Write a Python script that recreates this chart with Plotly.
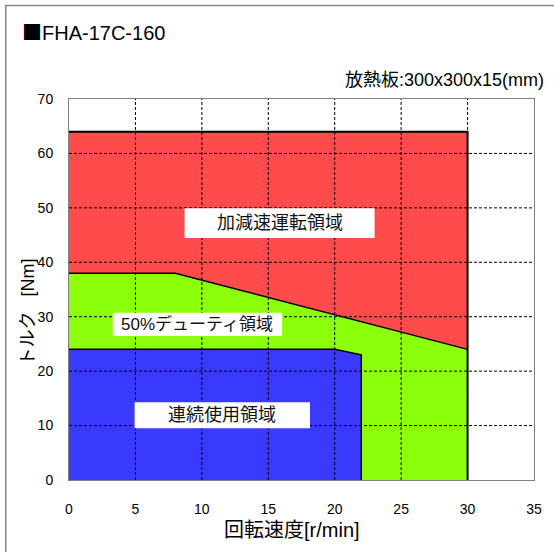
import plotly.graph_objects as go

# Data (speed r/min, torque Nm)
accel_x = [0, 30, 30, 8, 0]
accel_y = [64, 64, 24, 38, 38]
duty_x = [0, 8, 30, 30, 22, 22, 20, 0]
duty_y = [38, 38, 24, 0, 0, 23, 24, 24]
cont_x = [0, 20, 22, 22, 0]
cont_y = [24, 24, 23, 0, 0]

x_ticks = [0, 5, 10, 15, 20, 25, 30, 35]
y_ticks = [0, 10, 20, 30, 40, 50, 60, 70]

labels = ["加減速運転領域", "50%デューティ領域", "連続使用領域"]
label_x = [15.85, 9.67, 11.54]
label_y = [47.2, 28.6, 11.9]
label_size = [18, 17, 18]
box_w = [14.3, 12.75, 13.2]
box_h = [5.5, 4.3, 4.8]

RED = "#FF4B4B"
GREEN = "#8CFF0A"
BLUE = "#3A3AFF"
FONT = "Liberation Sans, Noto Sans CJK JP, sans-serif"

fig = go.Figure()

# fills
fig.add_trace(go.Scatter(x=accel_x, y=accel_y, fill="toself", fillcolor=RED,
                         mode="none", hoverinfo="skip"))
fig.add_trace(go.Scatter(x=duty_x, y=duty_y, fill="toself", fillcolor=GREEN,
                         mode="none", hoverinfo="skip"))
fig.add_trace(go.Scatter(x=cont_x, y=cont_y, fill="toself", fillcolor=BLUE,
                         mode="none", hoverinfo="skip"))

# gridlines on top of fills
for xv in x_ticks[1:-1]:
    fig.add_trace(go.Scatter(x=[xv, xv], y=[y_ticks[0], y_ticks[-1]], mode="lines",
                             line=dict(color="black", width=1, dash="3px,2px"),
                             hoverinfo="skip"))
for yv in y_ticks[1:-1]:
    fig.add_trace(go.Scatter(x=[x_ticks[0], x_ticks[-1]], y=[yv, yv], mode="lines",
                             line=dict(color="black", width=1, dash="3px,2px"),
                             hoverinfo="skip"))

# boundary lines
fig.add_trace(go.Scatter(x=[0, 30, 30], y=[64, 64, 0], mode="lines",
                         line=dict(color="black", width=2), hoverinfo="skip"))
fig.add_trace(go.Scatter(x=[0, 8, 30], y=[38, 38, 24], mode="lines",
                         line=dict(color="black", width=1.5), hoverinfo="skip"))
fig.add_trace(go.Scatter(x=cont_x[:4], y=cont_y[:4], mode="lines",
                         line=dict(color="black", width=1.5), hoverinfo="skip"))

shapes = []
annotations = []
for t, cx, cy, w, h, fs in zip(labels, label_x, label_y, box_w, box_h, label_size):
    shapes.append(dict(type="rect", xref="x", yref="y", x0=cx - w / 2, x1=cx + w / 2,
                       y0=cy - h / 2, y1=cy + h / 2, fillcolor="white",
                       line=dict(width=0), layer="above"))
    annotations.append(dict(text=t, x=cx, y=cy, xref="x", yref="y", showarrow=False,
                            font=dict(size=fs, color="#111", family=FONT)))

# outer frame
shapes.append(dict(type="rect", xref="paper", yref="paper", x0=-0.136, x1=1.2,
                   y0=-0.3, y1=1.2454, line=dict(color="#888", width=1.5),
                   fillcolor="rgba(0,0,0,0)", layer="below"))

annotations += [
    dict(text="<span style='font-family:Noto Sans CJK JP'>■</span>FHA-17C-160",
         xref="paper", yref="paper", x=-0.105, y=1.178,
         xanchor="left", yanchor="middle", showarrow=False,
         font=dict(size=20, color="black", family=FONT)),
    dict(text="放熱板:300x300x15(mm)", xref="paper", yref="paper", x=1.026, y=1.05,
         xanchor="right", yanchor="middle", showarrow=False,
         font=dict(size=18, color="black", family=FONT)),
    dict(text="回転速度[r/min]", xref="paper", yref="paper", x=0.48, y=-0.13,
         xanchor="center", yanchor="middle", showarrow=False,
         font=dict(size=20, color="black", family=FONT)),
    dict(text="トルク&nbsp;&nbsp;&nbsp;[Nm]", xref="paper", yref="paper", x=-0.088, y=0.44,
         xanchor="center", yanchor="middle", textangle=-90, showarrow=False,
         font=dict(size=18, color="black", family=FONT)),
]

fig.update_layout(
    width=554, height=552,
    margin=dict(l=69, r=18, t=99, b=72),
    paper_bgcolor="white", plot_bgcolor="white",
    showlegend=False,
    shapes=shapes, annotations=annotations,
    font=dict(family=FONT, size=13, color="black"),
)
fig.update_xaxes(range=[0, 35], tickvals=x_ticks, showgrid=False, zeroline=False,
                 showline=True, linecolor="#808080", linewidth=1, mirror=True,
                 ticks="", ticklabelstandoff=16, tickfont=dict(size=14))
fig.update_yaxes(range=[0, 70], tickvals=y_ticks, showgrid=False, zeroline=False,
                 showline=True, linecolor="#808080", linewidth=1, mirror=True,
                 ticks="", ticklabelstandoff=12, tickfont=dict(size=14))

fig.write_html("out.html", config={"displayModeBar": False},
               post_script="document.body.style.margin='0';")
